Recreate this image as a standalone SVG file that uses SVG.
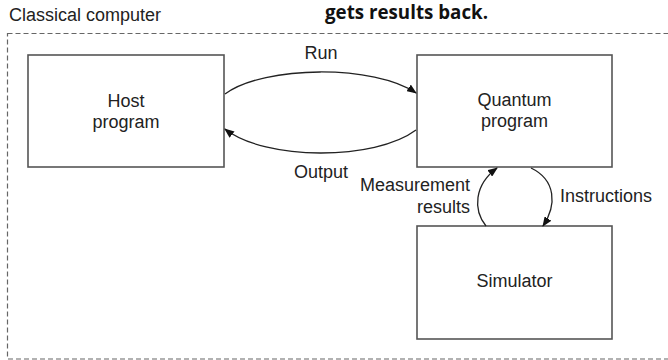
<svg xmlns="http://www.w3.org/2000/svg" width="668" height="360" viewBox="0 0 668 360">
<defs>
<style>
.t{font-family:"Liberation Sans",Arial,sans-serif;font-size:18px;fill:#222}
.box{fill:#fff;stroke:#555;stroke-width:1.6}
.c{fill:none;stroke:#222;stroke-width:1.3}
</style>
<marker id="ah" viewBox="0 0 10 8" refX="9" refY="4" markerWidth="10" markerHeight="8" markerUnits="userSpaceOnUse" orient="auto">
<path d="M0,0 L10,4 L0,8 Z" fill="#111"/>
</marker>
</defs>
<rect width="668" height="360" fill="#fff"/>
<rect x="7.5" y="33.5" width="700" height="325.5" fill="none" stroke="#666" stroke-width="1.2" stroke-dasharray="5,3"/>
<text class="t" x="9" y="21">Classical computer</text>
<text x="325" y="19" font-family="'Open Sans',sans-serif" font-weight="bold" font-size="19" fill="#111" textLength="163" lengthAdjust="spacingAndGlyphs">gets results back.</text>
<g id="host">
<rect class="box" x="28" y="55" width="196" height="112"/>
<text class="t" x="126" y="107" text-anchor="middle">Host</text>
<text class="t" x="126" y="128" text-anchor="middle">program</text>
</g>
<g id="quantum">
<rect class="box" x="417" y="55" width="195" height="112"/>
<text class="t" x="514.5" y="106" text-anchor="middle">Quantum</text>
<text class="t" x="514.5" y="127" text-anchor="middle">program</text>
</g>
<g id="simulator">
<rect class="box" x="417" y="226" width="195" height="113"/>
<text class="t" x="514.5" y="287" text-anchor="middle">Simulator</text>
</g>
<g id="connectors">
<path class="c" d="M225,94 C265,64.8 375,64.8 416,93" marker-end="url(#ah)"/>
<path class="c" d="M416,130 C375,160.8 265,160.8 225,129" marker-end="url(#ah)"/>
<path class="c" d="M486,226 C473,210 474,185 497,168" marker-end="url(#ah)"/>
<path class="c" d="M531,168 C556,180 557,205 543,226" marker-end="url(#ah)"/>
<text class="t" x="321" y="59" text-anchor="middle">Run</text>
<text class="t" x="321" y="178" text-anchor="middle">Output</text>
<text class="t" x="470" y="191" text-anchor="end">Measurement</text>
<text class="t" x="470" y="213" text-anchor="end">results</text>
<text class="t" x="560" y="202">Instructions</text>
</g>
</svg>
